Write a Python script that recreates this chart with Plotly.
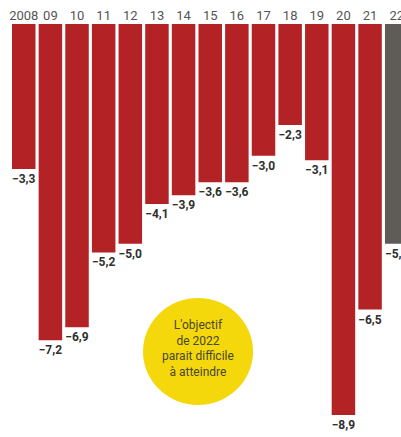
import plotly.graph_objects as go

years = ["2008", "09", "10", "11", "12", "13", "14", "15", "16", "17", "18", "19", "20", "21", "22"]
values = [-3.3, -7.2, -6.9, -5.2, -5.0, -4.1, -3.9, -3.6, -3.6, -3.0, -2.3, -3.1, -8.9, -6.5, -5.0]
is_target = [False] * 14 + [True]
note = "L'objectif<br>de 2022<br>parait difficile<br>à atteindre"

RED = "#b32326"
GREY = "#5f5c58"

xs = list(range(len(years)))
labels = ["−" + f"{abs(v):.1f}".replace(".", ",") for v in values]
colors = [GREY if t else RED for t in is_target]

fig = go.Figure(go.Bar(
    x=xs, y=values, marker=dict(color=colors, line=dict(width=0)),
    text=labels, textposition="outside", constraintext="none", cliponaxis=False,
    textfont=dict(family="Roboto", size=12, color="#2f2f2f", weight="bold"),
    hoverinfo="skip",
))

fig.update_layout(
    width=401, height=437,
    margin=dict(l=0, r=0, t=24, b=0),
    paper_bgcolor="white", plot_bgcolor="white",
    bargap=0.118,
    showlegend=False,
    xaxis=dict(
        side="top", range=[-0.8915, 14.161], tickmode="array", tickvals=xs, ticktext=years,
        showgrid=False, zeroline=False, showline=False, ticks="", automargin=False,
        ticklabeloverflow="allow",
        tickfont=dict(family="Roboto", size=13, color="#555555"),
    ),
    yaxis=dict(range=[-9.401, 0], visible=False, showgrid=False, zeroline=False, automargin=False),
    shapes=[dict(
        type="circle", xref="paper", yref="paper",
        x0=0.3566, x1=0.631, y0=0.0775, y1=0.3366,
        fillcolor="#f4d80b", line=dict(width=0), layer="above",
    )],
    annotations=[dict(
        text=note, xref="paper", yref="paper", x=0.494, y=0.2143,
        showarrow=False, align="center", xanchor="center", yanchor="middle",
        font=dict(family="Roboto", size=12, color="#4a4630"),
    )],
)

fig.write_html("out.html")
